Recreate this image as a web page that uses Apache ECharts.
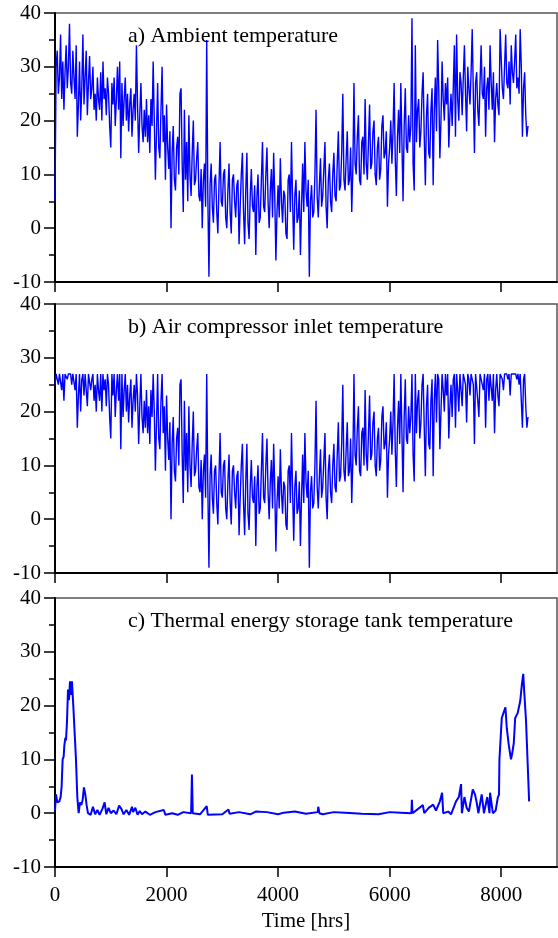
<!DOCTYPE html>
<html>
<head>
<meta charset="utf-8">
<script src="https://cdn.jsdelivr.net/npm/echarts@6/dist/echarts.min.js"></script>
<style>
  html, body { margin: 0; padding: 0; background: #fff; }
  #main { width: 558px; height: 938px; }
</style>
</head>
<body>
<div id="main"></div>
<script>
// hours between two samples of the ambient / inlet series
const STEP = 20

// a) ambient temperature, one value every 20 h from t = 0 (one row = 400 h)
const ambient = [
  5, 30, 33, 25, 28, 36, 24, 31, 22, 29, 34, 26, 30, 38, 27, 25, 33, 28, 24, 34,
  17, 23, 31, 20, 26, 36, 23, 28, 33, 21, 27, 32, 24, 26, 30, 22, 25, 20, 28, 24,
  22, 29, 20, 31, 24, 26, 21, 28, 25, 19, 15, 27, 23, 28, 19, 24, 30, 22, 31, 13,
  27, 19, 24, 28, 20, 25, 18, 23, 26, 17, 22, 25, 20, 34, 23, 14, 21, 27, 19, 16,
  22, 17, 24, 16, 21, 14, 24, 19, 31, 20, 9, 18, 27, 15, 13, 22, 30, 16, 21, 9,
  23, 15, 11, 18, 0, 14, 19, 9, 7, 15, 17, 10, 25, 26, 12, 3, 22, 9, 16, 5,
  21, 10, 6, 14, 20, 8, 9, 13, 16, 6, 5, 11, 0, 9, 12, 4, 35, 6, -9, 8,
  12, 4, 1, 9, 10, 3, -1, 8, 16, 5, 4, 10, 11, 2, 0, 7, 12, 3, -1, 9,
  10, 5, 2, 8, 9, -3, 4, 10, 14, 3, -3, 7, 14, 1, -2, 6, 11, 4, 3, 8,
  -5, 6, 10, 1, 2, 9, 16, 4, 3, 10, 15, 5, 0, 7, 11, 2, 14, 6, -6, 3,
  8, 2, 13, 5, 1, 7, 6, -1, -2, 9, 10, 3, 16, 5, -4, 6, 9, 1, 2, 7,
  -5, 4, 12, 3, 16, 7, 4, 9, -9, 5, 8, 2, 3, 10, 22, 6, 2, 8, 13, 4,
  6, 11, 16, 4, 0, 9, 12, 5, 3, 10, 14, 6, 5, 12, 18, 7, 8, 14, 25, 9,
  7, 13, 18, 8, 9, 15, 3, 11, 27, 12, 10, 17, 21, 9, 8, 16, 17, 10, 24, 12,
  9, 16, 23, 11, 12, 18, 20, 10, 8, 15, 17, 9, 11, 19, 21, 13, 14, 18, 4, 12,
  15, 20, 12, 18, 27, 13, 6, 17, 22, 14, 27, 16, 5, 19, 26, 15, 14, 21, 16, 19,
  39, 12, 7, 34, 16, 22, 24, 15, 18, 25, 29, 17, 8, 21, 25, 14, 13, 22, 26, 8,
  22, 28, 18, 35, 26, 13, 20, 31, 24, 20, 27, 23, 28, 15, 21, 25, 19, 26, 34, 17,
  36, 24, 20, 29, 27, 21, 28, 34, 25, 18, 30, 26, 23, 29, 37, 25, 14, 27, 29, 22,
  19, 27, 34, 25, 24, 30, 17, 26, 28, 22, 34, 27, 22, 29, 16, 24, 27, 23, 21, 37,
  37, 26, 24, 30, 36, 27, 26, 31, 23, 34, 29, 27, 31, 36, 26, 28, 25, 37, 30, 17,
  26, 29, 21, 17, 19
]

// b) air compressor inlet temperature, same sampling (held at 27 max)
const inlet = [
  25, 27, 27, 25, 27, 27, 24, 27, 22, 27, 27, 26, 27, 27, 27, 25, 27, 27, 24, 27,
  17, 23, 27, 20, 26, 27, 23, 27, 27, 21, 27, 27, 24, 26, 27, 22, 25, 20, 27, 24,
  22, 27, 20, 27, 24, 26, 21, 27, 25, 19, 15, 27, 23, 27, 19, 24, 27, 22, 27, 13,
  27, 19, 24, 27, 20, 25, 18, 23, 26, 17, 22, 25, 20, 27, 23, 14, 21, 27, 19, 16,
  22, 17, 24, 16, 21, 14, 24, 19, 27, 20, 9, 18, 27, 15, 13, 22, 27, 16, 21, 9,
  23, 15, 11, 18, 0, 14, 19, 9, 7, 15, 17, 10, 25, 26, 12, 3, 22, 9, 16, 5,
  21, 10, 6, 14, 20, 8, 9, 13, 16, 6, 5, 11, 0, 9, 12, 4, 27, 6, -9, 8,
  12, 4, 1, 9, 10, 3, -1, 8, 16, 5, 4, 10, 11, 2, 0, 7, 12, 3, -1, 9,
  10, 5, 2, 8, 9, -3, 4, 10, 14, 3, -3, 7, 14, 1, -2, 6, 11, 4, 3, 8,
  -5, 6, 10, 1, 2, 9, 16, 4, 3, 10, 15, 5, 0, 7, 11, 2, 14, 6, -6, 3,
  8, 2, 13, 5, 1, 7, 6, -1, -2, 9, 10, 3, 16, 5, -4, 6, 9, 1, 2, 7,
  -5, 4, 12, 3, 16, 7, 4, 9, -9, 5, 8, 2, 3, 10, 22, 6, 2, 8, 13, 4,
  6, 11, 16, 4, 0, 9, 12, 5, 3, 10, 14, 6, 5, 12, 18, 7, 8, 14, 25, 9,
  7, 13, 18, 8, 9, 15, 3, 11, 27, 12, 10, 17, 21, 9, 8, 16, 17, 10, 24, 12,
  9, 16, 23, 11, 12, 18, 20, 10, 8, 15, 17, 9, 11, 19, 21, 13, 14, 18, 4, 12,
  15, 20, 12, 18, 27, 13, 6, 17, 22, 14, 27, 16, 5, 19, 26, 15, 14, 21, 16, 19,
  27, 12, 7, 27, 16, 22, 24, 15, 18, 25, 27, 17, 8, 21, 25, 14, 13, 22, 26, 8,
  22, 27, 18, 27, 26, 13, 20, 27, 24, 20, 27, 23, 27, 15, 21, 25, 19, 26, 27, 17,
  27, 24, 20, 27, 27, 21, 27, 27, 25, 18, 27, 26, 23, 27, 27, 25, 14, 27, 27, 22,
  19, 27, 27, 25, 24, 27, 17, 26, 27, 22, 27, 27, 22, 27, 16, 24, 27, 23, 21, 27,
  27, 26, 24, 27, 27, 27, 26, 27, 23, 27, 27, 27, 27, 27, 26, 27, 25, 27, 27, 17,
  26, 27, 21, 17, 19
]

// c) thermal energy storage tank temperature
const tankHours = [
  0, 18, 42, 78, 101, 119, 137, 155, 167, 185,
  197, 215, 233, 251, 269, 287, 304, 328, 352, 376,
  400, 424, 448, 472, 496, 519, 543, 567, 591, 640,
  680, 720, 760, 800, 850, 890, 920, 960, 1000, 1050,
  1100, 1150, 1190, 1230, 1280, 1330, 1380, 1400, 1440, 1480,
  1520, 1560, 1620, 1700, 1800, 1950, 1980, 2100, 2200, 2300,
  2440, 2455, 2470, 2600, 2720, 2740, 3000, 3110, 3130, 3300,
  3500, 3600, 3800, 4000, 4100, 4300, 4500, 4710, 4720, 4740,
  4800, 5000, 5200, 5500, 5800, 6000, 6200, 6390,
  6398, 6410, 6595, 6620, 6700, 6780, 6830, 6900, 6940, 6960,
  7050, 7100, 7190, 7240, 7280, 7295, 7340, 7380, 7420, 7490,
  7530, 7560, 7590, 7650, 7690, 7750, 7790, 7800, 7850, 7900,
  7940, 7960, 7968, 8010, 8045, 8075, 8100, 8135, 8175, 8195,
  8225, 8250, 8295, 8340, 8370, 8395, 8410, 8445, 8475, 8500
]
const tankTemp = [
  0.5, 3.5, 2, 2.2, 3, 5, 10, 10.5, 12.5, 14,
  13.5, 17, 23, 21, 24.5, 22, 24.5, 20, 15, 10,
  3, 0, 2, 1.5, 2.5, 4.8, 3.5, 1.5, 0, -0.3,
  1.2, -0.2, 0.6, -0.3, 0.8, 2, -0.2, 1, 0, 0.5,
  -0.2, 1.4, 0.8, -0.2, 0.6, -0.3, 1.2, 0.2, 1, -0.3,
  0.4, -0.2, 0.3, -0.3, 0.2, 0.6, -0.3, 0, -0.3, 0.2,
  0, 7.2, 0, -0.2, 1.3, -0.3, -0.2, 0.7, -0.1, 0.2,
  -0.2, 0.3, 0.2, -0.2, 0.1, 0.3, -0.1, 0.2, 1.2, 0,
  -0.2, 0.2, 0.1, -0.1, -0.2, 0.2, 0.1, 0,
  2.5, 0, 1.5, 0, 1, 1.6, 0.5, 2.2, 3.8, 0,
  0.3, -0.2, 2.2, 3, 5.4, 0, 3, 1, 0.3, 4.4,
  3.5, 2, 0, 3.5, 0, 3, 0, 3.8, 0, 0.5,
  3, 3.4, 10, 17.7, 18, 19.7, 15.8, 12.7, 10, 11,
  13, 17.7, 18.6, 20.8, 23.9, 25.9, 23, 17.1, 9, 2.2
]

const titles = [
  'a) Ambient temperature',
  'b) Air compressor inlet temperature',
  'c) Thermal energy storage tank temperature'
]
const xTicks = [0, 2000, 4000, 6000, 8000]

const FONT = '"Liberation Serif", "Times New Roman", serif'
const gridTops = [13, 304, 598]
const GRID_H = 269

function toPairs(vals) {
  return vals.map((v, i) => [i * STEP, v])
}

function xAxisFor(idx, withLabels) {
  return {
    type: 'value', gridIndex: idx, min: 0, max: 9000,
    axisLine: { show: true, onZero: false, lineStyle: { color: '#000', width: 2 } },
    axisTick: { show: true, length: 10, customValues: xTicks, lineStyle: { color: '#000', width: 1.5 } },
    axisLabel: {
      show: withLabels, customValues: xTicks, margin: 18,
      formatter: v => String(v),
      fontFamily: FONT, fontSize: 21, color: '#000'
    },
    splitLine: { show: false },
    name: withLabels ? 'Time [hrs]' : '',
    nameLocation: 'middle', nameGap: 44,
    nameTextStyle: { fontFamily: FONT, fontSize: 21, color: '#000' }
  }
}

function yAxisFor(idx) {
  return {
    type: 'value', gridIndex: idx, min: -10, max: 40, interval: 10,
    axisLine: { show: true, onZero: false, lineStyle: { color: '#000', width: 2 } },
    axisTick: { show: true, length: 11, lineStyle: { color: '#000', width: 1.5 } },
    minorTick: { show: true, splitNumber: 2, length: 6, lineStyle: { color: '#000', width: 1.5 } },
    axisLabel: { margin: 14, fontFamily: FONT, fontSize: 21, color: '#000' },
    splitLine: { show: false },
    minorSplitLine: { show: false }
  }
}

const option = {
  animation: false,
  title: titles.map((t, i) => ({
    text: t, left: 128, top: gridTops[i] + 12, padding: 0,
    textStyle: { fontFamily: FONT, fontSize: 22, fontWeight: 'normal', color: '#000' }
  })),
  grid: gridTops.map(top => ({
    left: 55, right: 1, top: top, height: GRID_H,
    show: true, borderColor: '#555', borderWidth: 1.5, backgroundColor: 'transparent'
  })),
  xAxis: [xAxisFor(0, false), xAxisFor(1, false), xAxisFor(2, true)],
  yAxis: [yAxisFor(0), yAxisFor(1), yAxisFor(2)],
  series: [
    {
      type: 'line', xAxisIndex: 0, yAxisIndex: 0, data: toPairs(ambient),
      showSymbol: false, lineStyle: { color: '#0000ff', width: 1.4 }
    },
    {
      type: 'line', xAxisIndex: 1, yAxisIndex: 1, data: toPairs(inlet),
      showSymbol: false, lineStyle: { color: '#0000ff', width: 1.4 }
    },
    {
      type: 'line', xAxisIndex: 2, yAxisIndex: 2,
      data: tankHours.map((h, i) => [h, tankTemp[i]]),
      showSymbol: false, lineStyle: { color: '#0000ff', width: 2 }
    }
  ]
}

const chart = echarts.init(document.getElementById('main'), null, { renderer: 'canvas' })
chart.setOption(option)
</script>
</body>
</html>
